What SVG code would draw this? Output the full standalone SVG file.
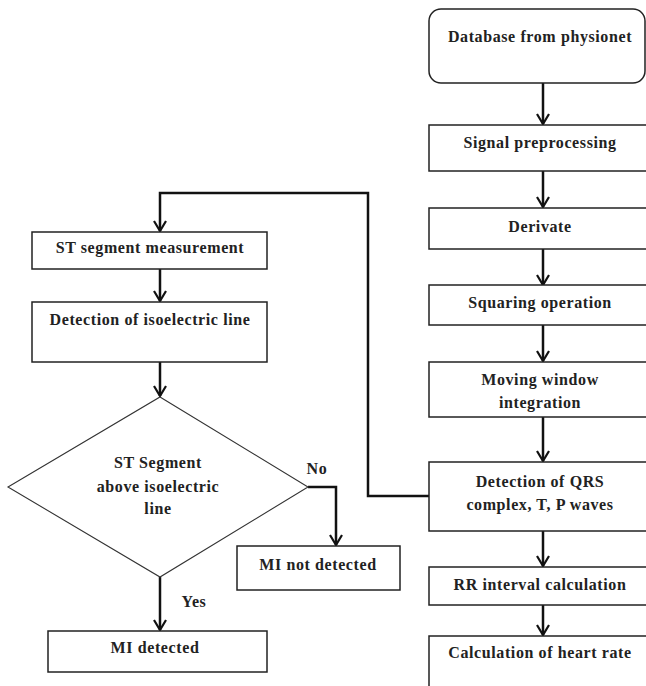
<svg xmlns="http://www.w3.org/2000/svg" width="646" height="686" viewBox="0 0 646 686">
<defs>
<marker id="ah" viewBox="0 0 12 14" refX="11" refY="7" markerWidth="12" markerHeight="14" markerUnits="userSpaceOnUse" orient="auto">
<path d="M1,1 L11,7 L1,13" fill="none" stroke="#111" stroke-width="2.2"/>
</marker>
<style>
.box{fill:#fff;stroke:#222;stroke-width:1.5}
.dia{fill:#fff;stroke:#333;stroke-width:1.1}
.t{font-family:"Liberation Serif","Times New Roman",serif;font-weight:bold;font-size:16px;letter-spacing:0.6px;fill:#222;text-anchor:middle}
.c{fill:none;stroke:#111;stroke-width:2.5}
.ca{fill:none;stroke:#111;stroke-width:2.5;marker-end:url(#ah)}
</style>
</defs>
<rect width="646" height="686" fill="#fff"/>
<g id="connectors">
<line class="ca" x1="543" y1="83" x2="543" y2="124"/>
<line class="ca" x1="543" y1="171" x2="543" y2="207"/>
<line class="ca" x1="543" y1="249" x2="543" y2="285"/>
<line class="ca" x1="543" y1="325" x2="543" y2="361"/>
<line class="ca" x1="543" y1="417" x2="543" y2="461"/>
<line class="ca" x1="543" y1="531" x2="543" y2="566"/>
<line class="ca" x1="543" y1="605" x2="543" y2="635"/>
<polyline class="ca" points="429,496 368,496 368,193 160,193 160,231"/>
<line class="ca" x1="160" y1="269" x2="160" y2="301"/>
<line class="ca" x1="160" y1="362" x2="160" y2="396"/>
<polyline class="ca" points="308,487 336,487 336,545"/>
<line class="ca" x1="160" y1="577" x2="160" y2="630"/>
<text class="t" x="317" y="474">No</text>
<text class="t" x="194" y="607">Yes</text>
</g>
<g id="n-database"><rect class="box" x="429" y="9" width="216" height="74" rx="12"/><text class="t" x="540" y="42">Database from physionet</text></g>
<g id="n-signal"><rect class="box" x="429" y="125" width="230" height="46"/><text class="t" x="540" y="148">Signal preprocessing</text></g>
<g id="n-derivate"><rect class="box" x="429" y="208" width="230" height="41"/><text class="t" x="540" y="232">Derivate</text></g>
<g id="n-squaring"><rect class="box" x="429" y="285" width="230" height="40"/><text class="t" x="540" y="308">Squaring operation</text></g>
<g id="n-moving"><rect class="box" x="429" y="362" width="230" height="55"/><text class="t" x="540" y="385">Moving window</text><text class="t" x="540" y="408">integration</text></g>
<g id="n-qrs"><rect class="box" x="429" y="462" width="230" height="69"/><text class="t" x="540" y="487">Detection of QRS</text><text class="t" x="540" y="510">complex, T, P waves</text></g>
<g id="n-rr"><rect class="box" x="429" y="567" width="230" height="38"/><text class="t" x="540" y="590">RR interval calculation</text></g>
<g id="n-heart"><rect class="box" x="429" y="636" width="230" height="70"/><text class="t" x="540" y="658">Calculation of heart rate</text></g>
<g id="n-st"><rect class="box" x="32" y="232" width="235" height="37"/><text class="t" x="150" y="253">ST segment measurement</text></g>
<g id="n-iso"><rect class="box" x="32" y="302" width="235" height="60"/><text class="t" x="150" y="325">Detection of isoelectric line</text></g>
<g id="n-decision"><polygon class="dia" points="160,397 308,487 160,577 8,487"/><text class="t" x="158" y="468">ST Segment</text><text class="t" x="158" y="492">above isoelectric</text><text class="t" x="158" y="514">line</text></g>
<g id="n-notdet"><rect class="box" x="237" y="546" width="163" height="44"/><text class="t" x="318" y="570">MI not detected</text></g>
<g id="n-det"><rect class="box" x="48" y="631" width="219" height="41"/><text class="t" x="155" y="653">MI detected</text></g>
</svg>
